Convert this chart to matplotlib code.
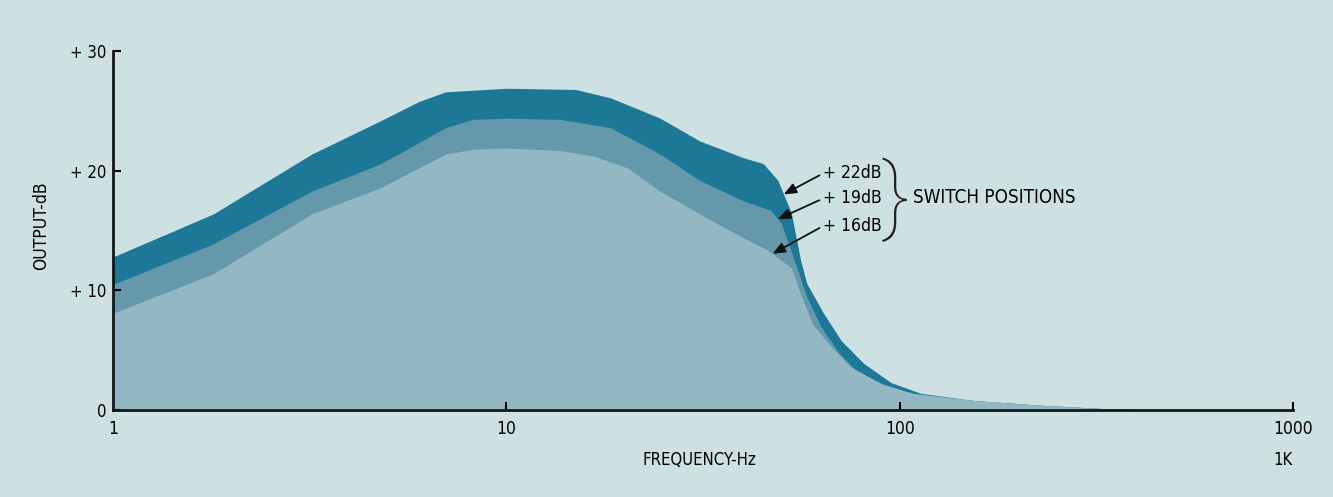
import numpy as np
import matplotlib
matplotlib.use("Agg")
import matplotlib.pyplot as plt

# curvas (frecuencia en Hz, salida en dB)
f_22 = [1, 1.8, 3.2, 4.8, 6.0, 7.0, 10, 15, 18.4, 24.6, 31, 40, 45, 49, 53, 56, 58, 64, 71, 81, 95, 113, 154, 228, 340, 440]
v_22 = [12.8, 16.4, 21.4, 24.2, 25.8, 26.6, 26.9, 26.8, 26.1, 24.4, 22.5, 21.1, 20.6, 19.2, 16.5, 12.5, 10.6, 8.1, 5.8, 3.9, 2.3, 1.4, 0.8, 0.4, 0.1, 0]

f_19 = [1, 1.8, 3.2, 4.8, 7.0, 8.2, 10, 13.7, 18.4, 24.6, 31, 40, 47, 50, 54, 58, 63, 70, 79, 95, 113, 154, 228, 340, 440]
v_19 = [10.5, 13.9, 18.3, 20.6, 23.6, 24.3, 24.4, 24.3, 23.6, 21.4, 19.2, 17.5, 16.7, 15.6, 12.5, 9.5, 7.0, 4.8, 3.0, 1.8, 1.2, 0.8, 0.4, 0.1, 0]

f_16 = [1, 1.8, 3.2, 4.8, 7.0, 8.2, 10, 13.7, 16.6, 20.3, 24.6, 31, 40, 46, 53, 56, 60, 67, 75, 90, 108, 154, 228, 340, 440]
v_16 = [8.1, 11.4, 16.4, 18.6, 21.4, 21.8, 21.9, 21.7, 21.25, 20.25, 18.3, 16.4, 14.4, 13.4, 11.9, 9.7, 7.2, 5.3, 3.6, 2.2, 1.4, 0.8, 0.4, 0.1, 0]

etiquetas = ["+ 22dB", "+ 19dB", "+ 16dB"]
punta_f = [50.7, 49.0, 47.5]  # donde apunta cada flecha
texto_v = [19.8, 17.7, 15.4]

y_ticks = [0, 10, 20, 30]
y_labels = ["0", "+ 10", "+ 20", "+ 30"]
x_ticks = [1, 10, 100, 1000]
x_labels = ["1", "10", "100", "1000"]

fondo = "#cde1e2"
colores = ["#1c7896", "#6498aa", "#93b8c4"]

plt.rcParams["font.family"] = ["DejaVu Sans"]
plt.rcParams["font.stretch"] = "condensed"

fig = plt.figure(figsize=(13.33, 4.97), dpi=100, facecolor=fondo)
ax = fig.add_axes([0.0848, 0.175, 0.8852, 0.722])
ax.set_facecolor(fondo)

curvas = [(f_22, v_22), (f_19, v_19), (f_16, v_16)]
for (f, v), c in zip(curvas, colores):
    ax.fill_between(f, 0, v, color=c, lw=0)

ax.set_xscale("log")
ax.set_xlim(1, 1000)
ax.set_ylim(0, 30)

ax.set_xticks(x_ticks)
ax.set_xticklabels(x_labels, fontsize=12.5)
ax.set_yticks(y_ticks)
ax.set_yticklabels(y_labels, fontsize=12)
ax.minorticks_off()
ax.tick_params(axis="x", direction="in", length=6, width=1.5, pad=7)
ax.tick_params(axis="y", direction="in", length=6, width=1.5, pad=5)
ax.xaxis.get_major_ticks()[0].tick1line.set_visible(False)

for s in ["top", "right"]:
    ax.spines[s].set_visible(False)
for s in ["left", "bottom"]:
    ax.spines[s].set_linewidth(2)
    ax.spines[s].set_color("#101818")

ax.set_ylabel("OUTPUT-dB", fontsize=12.5)
ax.yaxis.set_label_coords(-0.053, 0.515)
fig.text(0.525, 0.075, "FREQUENCY-Hz", fontsize=12, ha="center", va="center")
fig.text(0.9625, 0.075, "1K", fontsize=12, ha="center", va="center")

# flechas de las posiciones del interruptor
curvas_f = [f_22, f_19, f_16]
curvas_v = [v_22, v_19, v_16]
for lab, pf, tv, f, v in zip(etiquetas, punta_f, texto_v, curvas_f, curvas_v):
    pv = np.interp(np.log10(pf), np.log10(f), v)
    ax.annotate(lab, xy=(pf, pv), xytext=(64, tv), fontsize=12.5,
                ha="left", va="center",
                arrowprops=dict(arrowstyle="-|>,head_length=0.6,head_width=0.25",
                                color="#111111", lw=1.3, relpos=(0, 0.5),
                                shrinkA=1, shrinkB=0))

ax.text(98, 17.6, "}", fontsize=62, ha="center", va="center",
        family=["Roboto", "DejaVu Sans"], fontweight="light", color="#222222")
ax.text(108, 17.8, "SWITCH POSITIONS", fontsize=13.5, ha="left", va="center")

fig.savefig("out.png", dpi=100, facecolor=fondo)
